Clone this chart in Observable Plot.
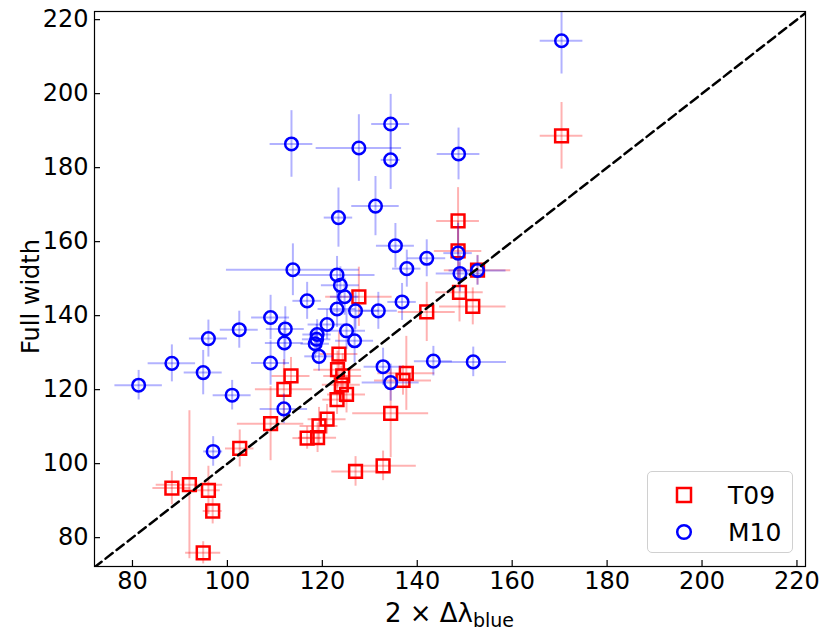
<!DOCTYPE html>
<html>
<head>
<meta charset="utf-8">
<script src="https://cdn.jsdelivr.net/npm/d3@7"></script>
<script src="https://cdn.jsdelivr.net/npm/@observablehq/plot@0.6"></script>
<style>
  html, body { margin: 0; padding: 0; background: white; }
  #wrap { position: relative; width: 830px; height: 637px; font-family: "DejaVu Sans", sans-serif; }
  #legend { position: absolute; left: 647px; top: 471px; width: 146px; height: 82px;
    border: 1px solid #d0d0d0; border-radius: 5px; background: rgba(255,255,255,0.85); box-sizing: border-box; }
  .lg-row { position: absolute; left: 0; height: 30px; display: flex; align-items: center; font-size: 25px; color: black; }
  .lg-row svg { margin-left: 26px; margin-right: 34px; }
</style>
</head>
<body>
<div id="wrap"><div id="chart"></div><div id="legend"></div></div>
<script>
// T09 (red squares): x, y, x-error, y-error
const t09X  = [88.3, 92.0, 96.0, 96.9, 94.9, 102.6, 109.1, 111.9, 113.4, 116.8, 119.0, 119.3, 121.0, 123.1, 125.1, 123.5, 123.2, 124.3, 124.0, 127.0, 132.8, 134.4, 137.0, 137.7, 127.7, 142.0, 151.7, 148.9, 148.6, 148.6, 152.7, 170.4];
const t09Y  = [93.4, 94.3, 92.8, 87.2, 75.9, 104.1, 110.8, 120.1, 123.7, 106.9, 107.0, 110.2, 112.0, 117.3, 118.7, 129.6, 125.4, 123.7, 121.3, 97.9, 99.4, 113.6, 122.5, 124.4, 145.1, 141.0, 142.5, 146.3, 157.5, 165.6, 152.3, 188.6];
const t09XE = [4, 7, 2.5, 2, 3.7, 3, 7, 6, 4, 3, 4, 4, 4, 3, 4, 4, 5, 4, 4, 5, 7, 8, 6, 6, 7, 6, 7, 5, 5, 4.5, 7, 4.5];
const t09YE = [4.5, 20, 6.5, 3.5, 3, 5, 10, 8, 5, 3, 4, 5, 4, 4, 5, 6, 5, 6, 5, 4, 4, 12, 4, 10, 8, 8, 5, 8, 8, 9, 4, 9];

// M10 (blue circles)
const m10X  = [81.3, 88.3, 94.9, 96.0, 101.0, 97.0, 102.5, 109.1, 109.1, 112.2, 112.0, 111.9, 113.8, 116.8, 118.9, 118.8, 118.5, 119.3, 121.0, 123.1, 123.8, 124.7, 123.1, 127.0, 125.1, 126.8, 123.4, 131.2, 113.5, 127.7, 134.4, 134.4, 148.7, 135.4, 137.8, 142.0, 148.6, 149.0, 152.7, 136.8, 131.8, 132.8, 134.4, 143.4, 151.8, 170.4];
const m10Y  = [121.2, 127.1, 124.6, 133.8, 118.5, 103.3, 136.2, 127.2, 139.5, 136.4, 132.6, 114.8, 152.4, 144.0, 134.9, 133.6, 132.4, 129.0, 137.6, 151.0, 148.2, 145.1, 141.8, 141.3, 135.9, 133.2, 166.5, 169.6, 186.4, 185.3, 191.8, 182.1, 183.7, 158.9, 152.7, 155.5, 156.9, 151.4, 152.2, 143.7, 141.3, 126.2, 121.9, 127.7, 127.5, 214.3];
const m10XE = [5, 5, 4, 4, 4, 2, 4, 4, 4, 4, 4, 5, 14, 3, 3, 3, 3, 3, 4, 8, 4, 3, 4, 5, 4, 4, 3, 5, 4.5, 9, 4, 2, 4.5, 4, 3, 4, 3, 5, 6, 3, 4, 4, 6, 4, 7, 4.5];
const m10YE = [4, 5, 6, 5, 4, 4, 5, 6, 6, 6, 6, 4, 7, 5, 4, 4, 4, 4, 4, 5, 5, 5, 5, 5, 5, 6, 8, 8, 9, 9, 8, 8, 7, 6, 5, 5, 8, 5, 4, 5, 5, 5, 5, 4, 4, 9];

const xTicks = [80, 100, 120, 140, 160, 180, 200, 220];
const yTicks = [80, 100, 120, 140, 160, 180, 200, 220];
const diagonal = [72, 222];

const t09 = t09X.map((x, i) => ({x, y: t09Y[i], xe: t09XE[i], ye: t09YE[i]}));
const m10 = m10X.map((x, i) => ({x, y: m10Y[i], xe: m10XE[i], ye: m10YE[i]}));

const W = 830, H = 637, mL = 94, mR = 25, mT = 11, mB = 71;
const innerW = W - mL - mR, innerH = H - mT - mB;
const RED = "#ff0000", BLUE = "#0000ff";

function errMarks(data, color) {
  return [
    Plot.ruleY(data, {y: "y", x1: d => d.x - d.xe, x2: d => d.x + d.xe, stroke: color, strokeOpacity: 0.3, strokeWidth: 2, clip: true}),
    Plot.ruleX(data, {x: "x", y1: d => d.y - d.ye, y2: d => d.y + d.ye, stroke: color, strokeOpacity: 0.3, strokeWidth: 2, clip: true})
  ];
}

const chart = Plot.plot({
  width: W, height: H,
  marginLeft: mL, marginRight: mR, marginTop: mT, marginBottom: mB,
  style: {fontFamily: "DejaVu Sans", fontSize: "24px", background: "white", color: "black"},
  x: {domain: [72, 221.8]},
  y: {domain: [72.2, 222.2]},
  marks: [
    ...errMarks(t09, RED),
    Plot.dot(t09, {x: "x", y: "y", symbol: "square", r: 7.2, stroke: RED, strokeWidth: 2.5, fill: "none"}),
    ...errMarks(m10, BLUE),
    Plot.dot(m10, {x: "x", y: "y", symbol: "circle", r: 6.3, stroke: BLUE, strokeWidth: 2.5, fill: "none"}),
    Plot.line(diagonal, {x: d => d, y: d => d, stroke: "black", strokeWidth: 2.5, strokeDasharray: "9,5", clip: true}),
    Plot.frame({stroke: "black", strokeWidth: 1.2}),
    Plot.tickX(xTicks, {x: d => d, insetTop: innerH - 6, stroke: "black", strokeWidth: 1.2}),
    Plot.tickY(yTicks, {y: d => d, insetRight: innerW - 6, stroke: "black", strokeWidth: 1.2}),
    Plot.axisX(xTicks, {tickSize: 0, tickPadding: 5, label: null, fontSize: 24}),
    Plot.axisY(yTicks, {tickSize: 0, tickPadding: 6, label: null, fontSize: 24})
  ]
});
document.getElementById("chart").appendChild(chart);

// axis titles
const svg = d3.select(chart);
const xt = svg.append("text")
  .attr("x", mL + innerW / 2).attr("y", 622)
  .attr("text-anchor", "middle")
  .attr("font-family", "DejaVu Sans").attr("font-size", 26).attr("fill", "black");
xt.append("tspan").text("2 × Δλ");
xt.append("tspan").attr("font-size", 19).attr("dy", 5).text("blue");

svg.append("text")
  .attr("transform", `translate(39, ${mT + innerH / 2 + 8}) rotate(-90)`)
  .attr("text-anchor", "middle")
  .attr("font-family", "DejaVu Sans").attr("font-size", 24).attr("fill", "black")
  .text("Full width");

// legend
const legendItems = [
  {label: "T09", symbol: "square", color: RED},
  {label: "M10", symbol: "circle", color: BLUE}
];
const lg = document.getElementById("legend");
legendItems.forEach((item, i) => {
  const row = document.createElement("div");
  row.className = "lg-row";
  row.style.top = (8 + i * 37) + "px";
  const shape = item.symbol === "square"
    ? `<rect x="3" y="3" width="14" height="14" fill="none" stroke="${item.color}" stroke-width="2.5"/>`
    : `<circle cx="10" cy="10" r="6.8" fill="none" stroke="${item.color}" stroke-width="2.5"/>`;
  row.innerHTML = `<svg width="20" height="20">${shape}</svg><span>${item.label}</span>`;
  lg.appendChild(row);
});
</script>
</body>
</html>
